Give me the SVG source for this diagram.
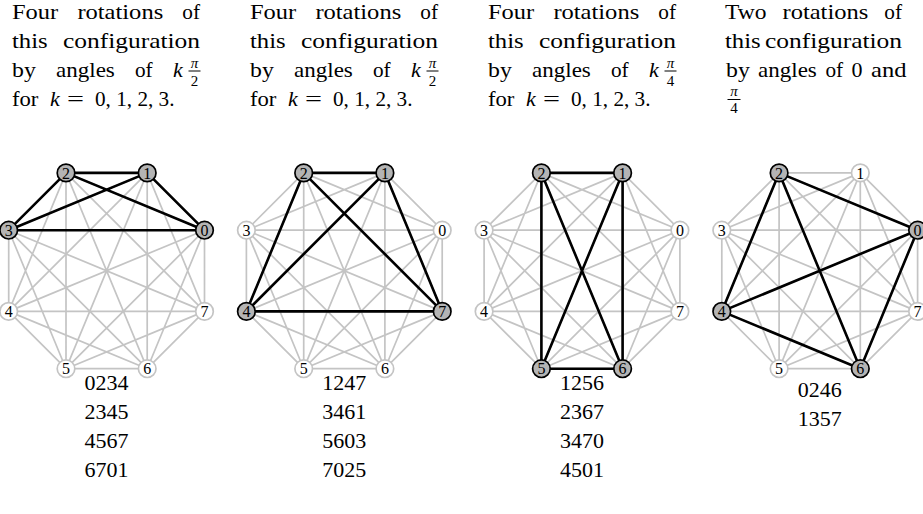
<svg xmlns="http://www.w3.org/2000/svg" xmlns:xlink="http://www.w3.org/1999/xlink" width="923" height="514" viewBox="0 0 923 514">
<style>
text{font-family:"Liberation Serif","Times New Roman",serif;fill:#000}
.cap{font-size:22px}
.it{font-style:italic}
.sc{font-size:15px}
.num{font-size:22px;text-anchor:middle}
.bg{fill:none;stroke:#c4c4c4;stroke-width:1.7}
.hl{fill:none;stroke:#000;stroke-width:2.6;stroke-linecap:round}
.node circle{fill:#fff;stroke:#c4c4c4;stroke-width:1.7}
.node.on circle{fill:#b4b4b4;stroke:#000;stroke-width:1.7}
.node text{font-size:16px;text-anchor:middle}
.bar{stroke:#000;stroke-width:1}
</style>
<defs>
<path id="k8" class="bg" d="M97.9,-40.6L40.6,-97.9M97.9,-40.6L-40.6,-97.9M97.9,-40.6L-97.9,-40.6M97.9,-40.6L-97.9,40.6M97.9,-40.6L-40.6,97.9M97.9,-40.6L40.6,97.9M97.9,-40.6L97.9,40.6M40.6,-97.9L-40.6,-97.9M40.6,-97.9L-97.9,-40.6M40.6,-97.9L-97.9,40.6M40.6,-97.9L-40.6,97.9M40.6,-97.9L40.6,97.9M40.6,-97.9L97.9,40.6M-40.6,-97.9L-97.9,-40.6M-40.6,-97.9L-97.9,40.6M-40.6,-97.9L-40.6,97.9M-40.6,-97.9L40.6,97.9M-40.6,-97.9L97.9,40.6M-97.9,-40.6L-97.9,40.6M-97.9,-40.6L-40.6,97.9M-97.9,-40.6L40.6,97.9M-97.9,-40.6L97.9,40.6M-97.9,40.6L-40.6,97.9M-97.9,40.6L40.6,97.9M-97.9,40.6L97.9,40.6M-40.6,97.9L40.6,97.9M-40.6,97.9L97.9,40.6M40.6,97.9L97.9,40.6"/>
</defs>

<!-- captions -->
<g id="caption1">
<text class="cap" x="12" y="18.5" textLength="46.2" lengthAdjust="spacingAndGlyphs">Four</text>
<text class="cap" x="77.4" y="18.5" textLength="85.8" lengthAdjust="spacingAndGlyphs">rotations</text>
<text class="cap" x="182.3" y="18.5" textLength="17.7" lengthAdjust="spacingAndGlyphs">of</text>
<text class="cap" x="12" y="47.5" textLength="35.6" lengthAdjust="spacingAndGlyphs">this</text>
<text class="cap" x="63" y="47.5" textLength="137" lengthAdjust="spacingAndGlyphs">configuration</text>
<text class="cap" x="12" y="76.5" textLength="23.8" lengthAdjust="spacingAndGlyphs">by</text>
<text class="cap" x="56" y="76.5" textLength="58.8" lengthAdjust="spacingAndGlyphs">angles</text>
<text class="cap" x="135" y="76.5" textLength="17.7" lengthAdjust="spacingAndGlyphs">of</text>
<text class="cap it" x="173" y="76.5">k</text>
<text class="sc it" x="194.5" y="67.5" text-anchor="middle">π</text>
<line class="bar" x1="188.5" y1="71" x2="200.5" y2="71"/>
<text class="sc" x="194.5" y="85.5" text-anchor="middle">2</text>
<text class="cap" x="12" y="105.5" textLength="26.4" lengthAdjust="spacingAndGlyphs">for</text>
<text class="cap it" x="50" y="105.5">k</text>
<text class="cap" x="67" y="105.5" textLength="17" lengthAdjust="spacingAndGlyphs">=</text>
<text class="cap" x="95" y="105.5" textLength="79.5" lengthAdjust="spacingAndGlyphs">0, 1, 2, 3.</text>
</g>
<g id="caption2">
<text class="cap" x="250" y="18.5" textLength="46.2" lengthAdjust="spacingAndGlyphs">Four</text>
<text class="cap" x="315.4" y="18.5" textLength="85.8" lengthAdjust="spacingAndGlyphs">rotations</text>
<text class="cap" x="420.3" y="18.5" textLength="17.7" lengthAdjust="spacingAndGlyphs">of</text>
<text class="cap" x="250" y="47.5" textLength="35.6" lengthAdjust="spacingAndGlyphs">this</text>
<text class="cap" x="301" y="47.5" textLength="137" lengthAdjust="spacingAndGlyphs">configuration</text>
<text class="cap" x="250" y="76.5" textLength="23.8" lengthAdjust="spacingAndGlyphs">by</text>
<text class="cap" x="294" y="76.5" textLength="58.8" lengthAdjust="spacingAndGlyphs">angles</text>
<text class="cap" x="373" y="76.5" textLength="17.7" lengthAdjust="spacingAndGlyphs">of</text>
<text class="cap it" x="411" y="76.5">k</text>
<text class="sc it" x="432.5" y="67.5" text-anchor="middle">π</text>
<line class="bar" x1="426.5" y1="71" x2="438.5" y2="71"/>
<text class="sc" x="432.5" y="85.5" text-anchor="middle">2</text>
<text class="cap" x="250" y="105.5" textLength="26.4" lengthAdjust="spacingAndGlyphs">for</text>
<text class="cap it" x="288" y="105.5">k</text>
<text class="cap" x="305" y="105.5" textLength="17" lengthAdjust="spacingAndGlyphs">=</text>
<text class="cap" x="333" y="105.5" textLength="79.5" lengthAdjust="spacingAndGlyphs">0, 1, 2, 3.</text>
</g>
<g id="caption3">
<text class="cap" x="488" y="18.5" textLength="46.2" lengthAdjust="spacingAndGlyphs">Four</text>
<text class="cap" x="553.4" y="18.5" textLength="85.8" lengthAdjust="spacingAndGlyphs">rotations</text>
<text class="cap" x="658.3" y="18.5" textLength="17.7" lengthAdjust="spacingAndGlyphs">of</text>
<text class="cap" x="488" y="47.5" textLength="35.6" lengthAdjust="spacingAndGlyphs">this</text>
<text class="cap" x="539" y="47.5" textLength="137" lengthAdjust="spacingAndGlyphs">configuration</text>
<text class="cap" x="488" y="76.5" textLength="23.8" lengthAdjust="spacingAndGlyphs">by</text>
<text class="cap" x="532" y="76.5" textLength="58.8" lengthAdjust="spacingAndGlyphs">angles</text>
<text class="cap" x="611" y="76.5" textLength="17.7" lengthAdjust="spacingAndGlyphs">of</text>
<text class="cap it" x="649" y="76.5">k</text>
<text class="sc it" x="670.5" y="67.5" text-anchor="middle">π</text>
<line class="bar" x1="664.5" y1="71" x2="676.5" y2="71"/>
<text class="sc" x="670.5" y="85.5" text-anchor="middle">4</text>
<text class="cap" x="488" y="105.5" textLength="26.4" lengthAdjust="spacingAndGlyphs">for</text>
<text class="cap it" x="526" y="105.5">k</text>
<text class="cap" x="543" y="105.5" textLength="17" lengthAdjust="spacingAndGlyphs">=</text>
<text class="cap" x="571" y="105.5" textLength="79.5" lengthAdjust="spacingAndGlyphs">0, 1, 2, 3.</text>
</g>
<g id="caption4">
<text class="cap" x="725" y="18.5" textLength="41.5" lengthAdjust="spacingAndGlyphs">Two</text>
<text class="cap" x="782.5" y="18.5" textLength="85.8" lengthAdjust="spacingAndGlyphs">rotations</text>
<text class="cap" x="884.3" y="18.5" textLength="17.7" lengthAdjust="spacingAndGlyphs">of</text>
<text class="cap" x="725" y="47.5" textLength="35.6" lengthAdjust="spacingAndGlyphs">this</text>
<text class="cap" x="765" y="47.5" textLength="137" lengthAdjust="spacingAndGlyphs">configuration</text>
<text class="cap" x="726" y="76.5" textLength="23.8" lengthAdjust="spacingAndGlyphs">by</text>
<text class="cap" x="758" y="76.5" textLength="58.8" lengthAdjust="spacingAndGlyphs">angles</text>
<text class="cap" x="825.5" y="76.5" textLength="17.7" lengthAdjust="spacingAndGlyphs">of</text>
<text class="cap" x="851.5" y="76.5">0</text>
<text class="cap" x="871" y="76.5" textLength="35.5" lengthAdjust="spacingAndGlyphs">and</text>
<text class="sc it" x="734" y="96" text-anchor="middle">π</text>
<line class="bar" x1="727.5" y1="99.5" x2="740.5" y2="99.5"/>
<text class="sc" x="734" y="113" text-anchor="middle">4</text>
</g>

<!-- graph 1 -->
<g transform="translate(106.6,270.8)">
<g id="g1-connectors">
<use xlink:href="#k8" href="#k8"/>
<path class="hl" d="M97.9,-40.6L40.6,-97.9M97.9,-40.6L-40.6,-97.9M97.9,-40.6L-97.9,-40.6M40.6,-97.9L-40.6,-97.9M40.6,-97.9L-97.9,-40.6M-40.6,-97.9L-97.9,-40.6"/>
</g>
<g id="g1-n0" class="node on"><circle cx="97.9" cy="-40.6" r="8.8"/><text x="97.9" y="-35">0</text></g>
<g id="g1-n1" class="node on"><circle cx="40.6" cy="-97.9" r="8.8"/><text x="40.6" y="-92.3">1</text></g>
<g id="g1-n2" class="node on"><circle cx="-40.6" cy="-97.9" r="8.8"/><text x="-40.6" y="-92.3">2</text></g>
<g id="g1-n3" class="node on"><circle cx="-97.9" cy="-40.6" r="8.8"/><text x="-97.9" y="-35">3</text></g>
<g id="g1-n4" class="node"><circle cx="-97.9" cy="40.6" r="8.8"/><text x="-97.9" y="46.2">4</text></g>
<g id="g1-n5" class="node"><circle cx="-40.6" cy="97.9" r="8.8"/><text x="-40.6" y="103.5">5</text></g>
<g id="g1-n6" class="node"><circle cx="40.6" cy="97.9" r="8.8"/><text x="40.6" y="103.5">6</text></g>
<g id="g1-n7" class="node"><circle cx="97.9" cy="40.6" r="8.8"/><text x="97.9" y="46.2">7</text></g>
</g>

<!-- graph 2 -->
<g transform="translate(344.3,270.8)">
<g id="g2-connectors">
<use xlink:href="#k8" href="#k8"/>
<path class="hl" d="M40.6,-97.9L-40.6,-97.9M40.6,-97.9L-97.9,40.6M40.6,-97.9L97.9,40.6M-40.6,-97.9L-97.9,40.6M-40.6,-97.9L97.9,40.6M-97.9,40.6L97.9,40.6"/>
</g>
<g id="g2-n0" class="node"><circle cx="97.9" cy="-40.6" r="8.8"/><text x="97.9" y="-35">0</text></g>
<g id="g2-n1" class="node on"><circle cx="40.6" cy="-97.9" r="8.8"/><text x="40.6" y="-92.3">1</text></g>
<g id="g2-n2" class="node on"><circle cx="-40.6" cy="-97.9" r="8.8"/><text x="-40.6" y="-92.3">2</text></g>
<g id="g2-n3" class="node"><circle cx="-97.9" cy="-40.6" r="8.8"/><text x="-97.9" y="-35">3</text></g>
<g id="g2-n4" class="node on"><circle cx="-97.9" cy="40.6" r="8.8"/><text x="-97.9" y="46.2">4</text></g>
<g id="g2-n5" class="node"><circle cx="-40.6" cy="97.9" r="8.8"/><text x="-40.6" y="103.5">5</text></g>
<g id="g2-n6" class="node"><circle cx="40.6" cy="97.9" r="8.8"/><text x="40.6" y="103.5">6</text></g>
<g id="g2-n7" class="node on"><circle cx="97.9" cy="40.6" r="8.8"/><text x="97.9" y="46.2">7</text></g>
</g>

<!-- graph 3 -->
<g transform="translate(582.0,270.8)">
<g id="g3-connectors">
<use xlink:href="#k8" href="#k8"/>
<path class="hl" d="M40.6,-97.9L-40.6,-97.9M40.6,-97.9L-40.6,97.9M40.6,-97.9L40.6,97.9M-40.6,-97.9L-40.6,97.9M-40.6,-97.9L40.6,97.9M-40.6,97.9L40.6,97.9"/>
</g>
<g id="g3-n0" class="node"><circle cx="97.9" cy="-40.6" r="8.8"/><text x="97.9" y="-35">0</text></g>
<g id="g3-n1" class="node on"><circle cx="40.6" cy="-97.9" r="8.8"/><text x="40.6" y="-92.3">1</text></g>
<g id="g3-n2" class="node on"><circle cx="-40.6" cy="-97.9" r="8.8"/><text x="-40.6" y="-92.3">2</text></g>
<g id="g3-n3" class="node"><circle cx="-97.9" cy="-40.6" r="8.8"/><text x="-97.9" y="-35">3</text></g>
<g id="g3-n4" class="node"><circle cx="-97.9" cy="40.6" r="8.8"/><text x="-97.9" y="46.2">4</text></g>
<g id="g3-n5" class="node on"><circle cx="-40.6" cy="97.9" r="8.8"/><text x="-40.6" y="103.5">5</text></g>
<g id="g3-n6" class="node on"><circle cx="40.6" cy="97.9" r="8.8"/><text x="40.6" y="103.5">6</text></g>
<g id="g3-n7" class="node"><circle cx="97.9" cy="40.6" r="8.8"/><text x="97.9" y="46.2">7</text></g>
</g>

<!-- graph 4 -->
<g transform="translate(819.7,270.8)">
<g id="g4-connectors">
<use xlink:href="#k8" href="#k8"/>
<path class="hl" d="M97.9,-40.6L-40.6,-97.9M97.9,-40.6L-97.9,40.6M97.9,-40.6L40.6,97.9M-40.6,-97.9L-97.9,40.6M-40.6,-97.9L40.6,97.9M-97.9,40.6L40.6,97.9"/>
</g>
<g id="g4-n0" class="node on"><circle cx="97.9" cy="-40.6" r="8.8"/><text x="97.9" y="-35">0</text></g>
<g id="g4-n1" class="node"><circle cx="40.6" cy="-97.9" r="8.8"/><text x="40.6" y="-92.3">1</text></g>
<g id="g4-n2" class="node on"><circle cx="-40.6" cy="-97.9" r="8.8"/><text x="-40.6" y="-92.3">2</text></g>
<g id="g4-n3" class="node"><circle cx="-97.9" cy="-40.6" r="8.8"/><text x="-97.9" y="-35">3</text></g>
<g id="g4-n4" class="node on"><circle cx="-97.9" cy="40.6" r="8.8"/><text x="-97.9" y="46.2">4</text></g>
<g id="g4-n5" class="node"><circle cx="-40.6" cy="97.9" r="8.8"/><text x="-40.6" y="103.5">5</text></g>
<g id="g4-n6" class="node on"><circle cx="40.6" cy="97.9" r="8.8"/><text x="40.6" y="103.5">6</text></g>
<g id="g4-n7" class="node"><circle cx="97.9" cy="40.6" r="8.8"/><text x="97.9" y="46.2">7</text></g>
</g>

<!-- lists -->
<g id="list1">
<text class="num" x="106.6" y="390">0234</text>
<text class="num" x="106.6" y="419">2345</text>
<text class="num" x="106.6" y="448">4567</text>
<text class="num" x="106.6" y="477">6701</text>
</g>
<g id="list2">
<text class="num" x="344.3" y="390">1247</text>
<text class="num" x="344.3" y="419">3461</text>
<text class="num" x="344.3" y="448">5603</text>
<text class="num" x="344.3" y="477">7025</text>
</g>
<g id="list3">
<text class="num" x="582" y="390">1256</text>
<text class="num" x="582" y="419">2367</text>
<text class="num" x="582" y="448">3470</text>
<text class="num" x="582" y="477">4501</text>
</g>
<g id="list4">
<text class="num" x="819.7" y="397">0246</text>
<text class="num" x="819.7" y="426">1357</text>
</g>
</svg>
